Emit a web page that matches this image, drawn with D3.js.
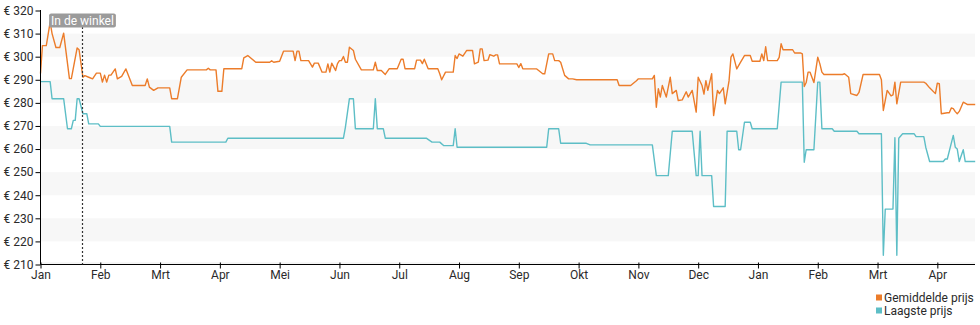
<!DOCTYPE html>
<html>
<head>
<meta charset="utf-8">
<script src="https://cdn.jsdelivr.net/npm/d3@7/dist/d3.min.js"></script>
<style>
  html, body { margin: 0; padding: 0; background: #fff; }
  svg { display: block; font-family: Roboto, "Noto Sans", sans-serif; }
</style>
</head>
<body>
<svg id="chart" width="980" height="325"></svg>
<script>
// Month labels for the x axis (Jan 2023 .. Apr 2024)
const monthLabels = ["Jan","Feb","Mrt","Apr","Mei","Jun","Jul","Aug","Sep","Okt","Nov","Dec","Jan","Feb","Mrt","Apr"];
// Price ticks on the y axis
const priceTicks = [210, 220, 230, 240, 250, 260, 270, 280, 290, 300, 310, 320];

const seriesNames = ["Gemiddelde prijs", "Laagste prijs"];
const seriesColors = ["#ec7c2a", "#5dbec6"];

// Store marker
const markerDate = "2023-01-23";
const markerLabel = "In de winkel";

// Average price (date, euro)
const avgPrice = [
  ["2023-01-01",292.7],["2023-01-02",304.8],["2023-01-04",304.8],["2023-01-06",315],["2023-01-07",310],
  ["2023-01-09",304],["2023-01-11",304],["2023-01-13",310.2],["2023-01-16",290.5],["2023-01-17",290.5],
  ["2023-01-20",303.8],["2023-01-21",303],["2023-01-23",291.1],["2023-01-24",291.8],["2023-01-26",291.1],
  ["2023-01-28",290.4],["2023-01-30",292.9],["2023-02-01",292.9],["2023-02-02",289],["2023-02-03",292],
  ["2023-02-04",289],["2023-02-05",292],["2023-02-06",292],["2023-02-08",294.7],["2023-02-09",290.4],
  ["2023-02-11",291.5],["2023-02-13",294.7],["2023-02-16",287.5],["2023-02-22",287.5],["2023-02-23",290.4],
  ["2023-02-24",286.8],["2023-02-26",285.4],["2023-02-28",286.5],["2023-03-06",286.5],["2023-03-07",281.8],
  ["2023-03-10",281.8],["2023-03-12",291.1],["2023-03-15",294.3],["2023-03-25",294.3],["2023-03-26",295],
  ["2023-03-27",294.3],["2023-03-30",294.3],["2023-03-31",285],["2023-04-02",285],["2023-04-03",294.8],
  ["2023-04-12",294.8],["2023-04-13",299.5],["2023-04-15",300.5],["2023-04-19",297.6],["2023-04-26",297.6],
  ["2023-04-27",298.2],["2023-04-28",297.6],["2023-05-01",298],["2023-05-03",302.4],["2023-05-08",302.4],
  ["2023-05-09",298.3],["2023-05-10",302.4],["2023-05-11",302.4],["2023-05-12",298.3],["2023-05-16",298.3],
  ["2023-05-17",296.9],["2023-05-18",295.5],["2023-05-19",297.2],["2023-05-21",297.2],["2023-05-23",293.3],
  ["2023-05-25",293.3],["2023-05-26",296.9],["2023-05-27",293.3],["2023-05-28",297.2],["2023-05-30",294],
  ["2023-05-31",297],["2023-06-01",298.3],["2023-06-02",298.3],["2023-06-03",300.1],["2023-06-04",297.6],
  ["2023-06-05",297.6],["2023-06-06",304.1],["2023-06-08",302.7],["2023-06-09",298.9],["2023-06-12",294.3],
  ["2023-06-18",294.3],["2023-06-19",297.6],["2023-06-20",294],["2023-06-22",294],["2023-06-24",292.3],
  ["2023-06-26",294.8],["2023-06-30",294.8],["2023-07-02",298.9],["2023-07-03",298.9],["2023-07-04",294.8],
  ["2023-07-09",294.8],["2023-07-10",298.5],["2023-07-12",298.5],["2023-07-13",297],["2023-07-14",298.9],
  ["2023-07-16",294.8],["2023-07-21",294.8],["2023-07-22",292.6],["2023-07-23",290],["2023-07-25",293.3],
  ["2023-07-29",293.3],["2023-07-30",300.5],["2023-07-31",299.2],["2023-08-01",301.2],["2023-08-03",300.2],
  ["2023-08-05",302.7],["2023-08-08",302.7],["2023-08-09",296.9],["2023-08-11",297.6],["2023-08-12",303.4],
  ["2023-08-13",303.4],["2023-08-14",298.3],["2023-08-16",298.5],["2023-08-17",300.9],["2023-08-19",300.2],
  ["2023-08-20",300.8],["2023-08-21",300.8],["2023-08-22",296.9],["2023-08-31",296.9],["2023-09-01",295.3],
  ["2023-09-02",297],["2023-09-03",294.8],["2023-09-10",294.7],["2023-09-13",292.6],["2023-09-14",292.6],
  ["2023-09-16",301.2],["2023-09-18",301.2],["2023-09-19",298.3],["2023-09-21",298.3],["2023-09-22",297.6],
  ["2023-09-24",291.9],["2023-09-26",290.4],["2023-09-28",290.4],["2023-09-30",290],["2023-10-21",290],
  ["2023-10-22",287.5],["2023-10-28",287.5],["2023-10-31",289.6],["2023-11-01",290.4],["2023-11-08",290.4],
  ["2023-11-09",291.9],["2023-11-10",278.1],["2023-11-11",286.1],["2023-11-12",282.5],["2023-11-13",287.5],
  ["2023-11-15",282.5],["2023-11-17",291.1],["2023-11-18",284],["2023-11-20",285.4],["2023-11-21",281],
  ["2023-11-23",281.3],["2023-11-25",284.8],["2023-11-26",282.5],["2023-11-28",285.4],["2023-11-30",276],
  ["2023-12-01",291.1],["2023-12-03",287.5],["2023-12-04",283.8],["2023-12-05",289.6],["2023-12-06",285.4],
  ["2023-12-08",292.6],["2023-12-09",274.5],["2023-12-11",285.4],["2023-12-12",284],["2023-12-14",286.5],
  ["2023-12-15",279.6],["2023-12-17",289.5],["2023-12-18",299.8],["2023-12-19",301.2],["2023-12-21",294.7],
  ["2023-12-23",297.6],["2023-12-25",300.5],["2023-12-28",300.5],["2023-12-29",298],["2024-01-02",298],
  ["2024-01-03",301.2],["2024-01-04",298.3],["2024-01-05",304.3],["2024-01-06",298.3],["2024-01-11",298.3],
  ["2024-01-12",299.7],["2024-01-13",305.6],["2024-01-14",303],["2024-01-19",303],["2024-01-20",301.6],
  ["2024-01-23",301.6],["2024-01-24",301.2],["2024-01-25",287.1],["2024-01-26",288.8],["2024-01-27",293.3],
  ["2024-01-28",293.3],["2024-01-30",288.8],["2024-02-01",299.8],["2024-02-02",297],["2024-02-03",293.3],
  ["2024-02-04",292.3],["2024-02-13",292.3],["2024-02-14",292.6],["2024-02-16",291.1],["2024-02-17",284],
  ["2024-02-20",283.2],["2024-02-21",284.5],["2024-02-23",292.3],["2024-03-02",292.3],["2024-03-03",290],
  ["2024-03-04",276.7],["2024-03-06",285.4],["2024-03-08",283],["2024-03-09",283.5],["2024-03-10",289],
  ["2024-03-11",279.6],["2024-03-13",289],["2024-03-25",289],["2024-03-26",288.5],["2024-03-28",286.5],
  ["2024-03-31",284],["2024-04-01",288.5],["2024-04-02",288.3],["2024-04-03",275.3],["2024-04-06",275.7],
  ["2024-04-07",275.7],["2024-04-08",277.8],["2024-04-09",277.5],["2024-04-10",276.2],["2024-04-11",275.3],
  ["2024-04-12",276.3],["2024-04-14",280.3],["2024-04-16",279.3],["2024-04-20",279.3]
];

// Lowest price (date, euro)
const lowPrice = [
  ["2023-01-01",289.2],["2023-01-06",289.2],["2023-01-07",281.8],["2023-01-13",281.8],["2023-01-15",268.8],
  ["2023-01-17",268.8],["2023-01-18",272.4],["2023-01-19",272.4],["2023-01-20",281.8],["2023-01-21",281.8],
  ["2023-01-23",275.3],["2023-01-25",275.3],["2023-01-26",270.9],["2023-01-31",270.9],["2023-02-01",269.8],
  ["2023-03-06",269.8],["2023-03-07",263],["2023-04-04",263],["2023-04-05",264.7],["2023-06-03",264.7],
  ["2023-06-04",269.5],["2023-06-06",281.8],["2023-06-08",281.8],["2023-06-09",268.8],["2023-06-18",268.8],
  ["2023-06-19",281.8],["2023-06-20",268.8],["2023-06-23",268.8],["2023-06-24",264.7],["2023-07-15",264.7],
  ["2023-07-18",263],["2023-07-22",263],["2023-07-24",261.5],["2023-07-29",261.5],["2023-07-30",268.8],
  ["2023-07-31",260.8],["2023-09-15",260.8],["2023-09-16",268.8],["2023-09-21",268.8],["2023-09-22",262.5],
  ["2023-10-05",262.5],["2023-10-07",261.8],["2023-11-08",261.8],["2023-11-10",248.5],["2023-11-16",248.5],
  ["2023-11-18",267.7],["2023-11-28",267.7],["2023-11-30",248.5],["2023-12-01",248.5],["2023-12-02",267.7],
  ["2023-12-03",248.5],["2023-12-08",248.5],["2023-12-09",235.1],["2023-12-15",235.1],["2023-12-16",267.7],
  ["2023-12-21",267.7],["2023-12-22",259.7],["2023-12-23",259.7],["2023-12-25",271.6],["2023-12-28",271.6],
  ["2023-12-29",268.8],["2024-01-11",268.8],["2024-01-13",289],["2024-01-24",289],["2024-01-25",254.3],
  ["2024-01-26",259.7],["2024-01-30",259.7],["2024-02-01",289],["2024-02-02",289],["2024-02-03",268.8],
  ["2024-02-08",268.8],["2024-02-09",267.7],["2024-02-20",267.7],["2024-02-21",266.6],["2024-03-03",266.6],
  ["2024-03-04",214],["2024-03-05",234],["2024-03-09",234],["2024-03-10",264.9],["2024-03-11",214],
  ["2024-03-12",264.7],["2024-03-14",266.6],["2024-03-20",266.6],["2024-03-21",265.4],["2024-03-25",265.4],
  ["2024-03-26",260.8],["2024-03-28",254.6],["2024-04-04",254.6],["2024-04-05",255.7],["2024-04-06",255.7],
  ["2024-04-09",265.9],["2024-04-10",260.8],["2024-04-11",260],["2024-04-12",254.6],["2024-04-14",259.7],
  ["2024-04-15",254.6],["2024-04-20",254.6]
];

// Months are laid out at equal widths: position = month index + fraction of that month.
function monthPos(s) {
  const [yy, mm, dd] = s.split("-").map(Number);
  const dim = new Date(yy, mm, 0).getDate();
  return (yy - 2023) * 12 + (mm - 1) + (dd - 1) / dim;
}

const svg = d3.select("#chart");
const plotL = 40.5, plotR = 975, plotT = 10.5, plotB = 264.5;

const x = d3.scaleLinear().domain([0, 15.63]).range([plotL, plotR]);
const y = d3.scaleLinear().domain([210, 320]).range([plotB, plotT]);

// Alternating horizontal bands
const bandStarts = d3.range(220, 320, 20);
svg.append("g").selectAll("rect").data(bandStarts).join("rect")
  .attr("x", plotL).attr("width", plotR - plotL)
  .attr("y", d => y(d + 10)).attr("height", d => y(d) - y(d + 10))
  .attr("fill", "#f7f7f7");

// Faint dotted line along the baseline
svg.append("line")
  .attr("x1", plotL).attr("x2", plotR).attr("y1", plotB - 1.5).attr("y2", plotB - 1.5)
  .attr("stroke", "#d8d8d8").attr("stroke-dasharray", "1,1");

// Series lines
const line = d3.line().x(d => x(monthPos(d[0]))).y(d => y(d[1]));
[avgPrice, lowPrice].forEach((data, i) => {
  svg.append("path").datum(data)
    .attr("fill", "none")
    .attr("stroke", seriesColors[i])
    .attr("stroke-width", 1.4)
    .attr("stroke-linejoin", "round")
    .attr("d", line);
});

// Y axis
const yAxis = svg.append("g").attr("transform", `translate(${plotL},0)`)
  .call(d3.axisLeft(y).tickValues(priceTicks).tickFormat(v => "€ " + v).tickSize(5).tickPadding(2));
yAxis.select(".domain").attr("stroke", "#000").attr("d", `M0,${plotT - 0.5}V${plotB}`);
yAxis.selectAll(".tick line").attr("stroke", "#000");
yAxis.selectAll("text").attr("font-size", 12).attr("fill", "#2a2a2a").attr("font-family", "Roboto, sans-serif");

// X axis
const xAxis = svg.append("g").attr("transform", `translate(0,${plotB})`)
  .call(d3.axisBottom(x).tickValues(d3.range(monthLabels.length)).tickFormat(i => monthLabels[i]).tickSize(4).tickPadding(2));
xAxis.select(".domain").attr("stroke", "#000").attr("d", `M${plotL},0H${plotR}`);
xAxis.selectAll(".tick line").attr("stroke", "#000").attr("y1", -2);
xAxis.selectAll("text").attr("font-size", 12).attr("fill", "#2a2a2a").attr("font-family", "Roboto, sans-serif");

// Store marker line and label
const mx = Math.floor(x(monthPos(markerDate))) + 0.5;
svg.append("line")
  .attr("x1", mx).attr("x2", mx).attr("y1", 27).attr("y2", plotB)
  .attr("stroke", "#333").attr("stroke-width", 1.2).attr("stroke-dasharray", "2,2");
const lbl = svg.append("g");
const lblText = lbl.append("text")
  .attr("x", mx).attr("y", 24.5)
  .attr("text-anchor", "middle")
  .attr("font-size", 12).attr("fill", "#fff")
  .text(markerLabel);
const bb = lblText.node().getBBox();
lbl.insert("rect", "text")
  .attr("x", bb.x - 2).attr("y", 13.5).attr("width", bb.width + 4).attr("height", 14)
  .attr("rx", 2).attr("fill", "#9b9b9b");

// Legend
const legend = svg.append("g").attr("transform", "translate(876,293)");
seriesNames.forEach((name, i) => {
  const g = legend.append("g").attr("transform", `translate(0,${i * 13})`);
  g.append("rect").attr("x", 0).attr("y", 1.5).attr("width", 6).attr("height", 6).attr("fill", seriesColors[i]);
  g.append("text").attr("x", 8).attr("y", 8.5).attr("font-size", 12).attr("fill", "#2a2a2a").text(name);
});
</script>
</body>
</html>
